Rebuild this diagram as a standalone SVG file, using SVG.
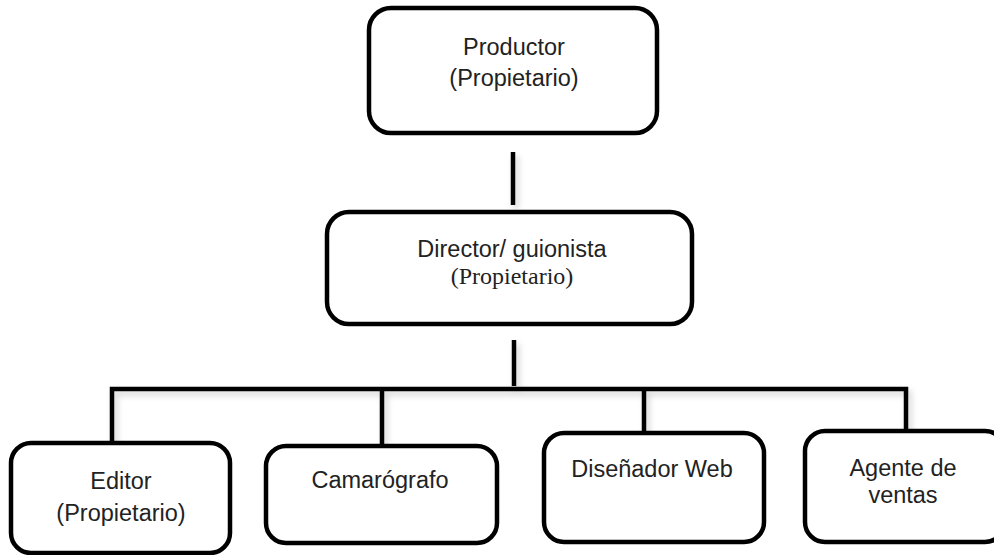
<svg xmlns="http://www.w3.org/2000/svg" width="994" height="555" viewBox="0 0 994 555">
<defs>
<filter id="sh" x="-10%" y="-10%" width="130%" height="140%">
<feDropShadow dx="3" dy="4" stdDeviation="3" flood-color="#000" flood-opacity="0.18"/>
</filter>
<style>
.box{fill:#fff;stroke:#000;stroke-width:4.5}
.ln{stroke:#000;stroke-width:4.5;fill:none;stroke-linecap:butt}
.t{font-family:"Liberation Sans",Arial,sans-serif;font-size:23.5px;fill:#222;text-anchor:middle}
.s{font-family:"Liberation Serif","Times New Roman",serif;font-size:24px;fill:#222;text-anchor:middle}
</style>
</defs>
<rect width="994" height="555" fill="#fff"/>
<g id="connectors" filter="url(#sh)">
<line class="ln" x1="513" y1="152" x2="513" y2="205"/>
<line class="ln" x1="514" y1="340" x2="514" y2="386"/>
<path class="ln" d="M112 444 V389 H906 V430"/>
<line class="ln" x1="382" y1="389" x2="382" y2="446"/>
<line class="ln" x1="644" y1="389" x2="644" y2="433"/>
</g>
<g id="productor">
<rect class="box" x="369" y="8" width="288" height="125" rx="22"/>
<text class="t" x="514" y="55">Productor</text>
<text class="t" x="514" y="86">(Propietario)</text>
</g>
<g id="director">
<rect class="box" x="327" y="212" width="365" height="112" rx="22"/>
<text class="t" x="512" y="257">Director/ guionista</text>
<text class="s" x="512" y="284">(Propietario)</text>
</g>
<g id="editor">
<rect class="box" x="11" y="443" width="219" height="110" rx="20"/>
<text class="t" x="121" y="489">Editor</text>
<text class="t" x="121" y="521">(Propietario)</text>
</g>
<g id="camarografo">
<rect class="box" x="266" y="446" width="231" height="97" rx="20"/>
<text class="t" x="380" y="488">Camarógrafo</text>
</g>
<g id="disenador">
<rect class="box" x="544" y="433" width="220" height="109" rx="20"/>
<text class="t" x="652" y="477">Diseñador Web</text>
</g>
<g id="agente">
<rect class="box" x="805" y="431" width="200" height="111" rx="20"/>
<text class="t" x="903" y="476">Agente de</text>
<text class="t" x="903" y="503">ventas</text>
</g>
</svg>
